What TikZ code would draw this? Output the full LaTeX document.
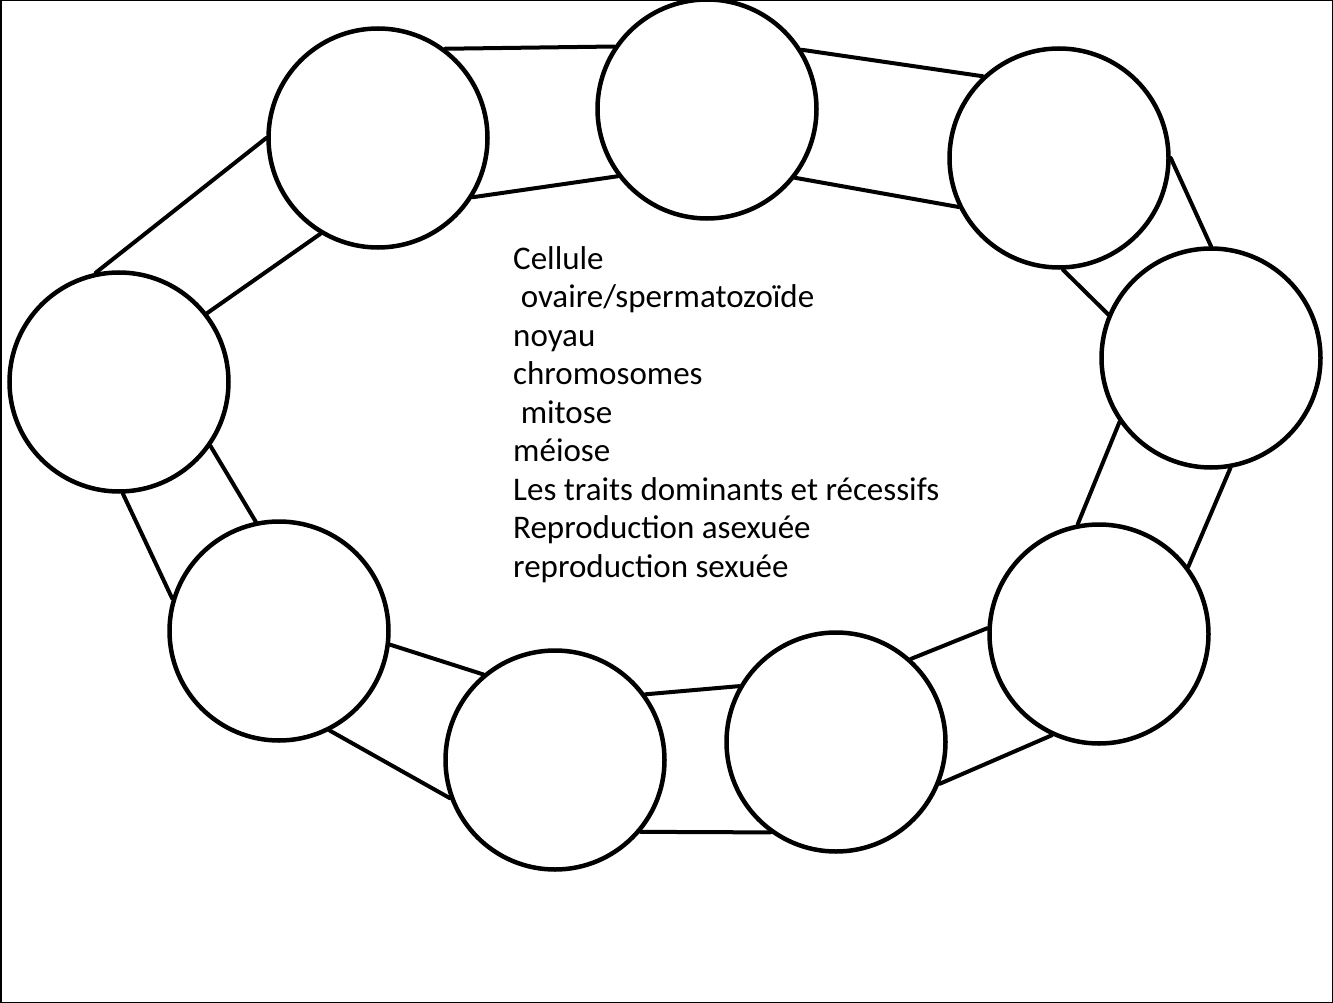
\documentclass[tikz,border=0pt]{standalone}
\usepackage{fontspec}
\setmainfont{Carlito}
\begin{document}
\begin{tikzpicture}[x=1pt,y=-1pt,
  ring/.style={circle,draw,line width=4.5pt,minimum size=219pt,inner sep=0pt},
  link/.style={line width=4pt,line cap=round}]
\useasboundingbox (0,0) rectangle (1333,1003);
\draw[line width=1.5pt] (0.75,0.75) rectangle (1332.25,1002.25);
\node[ring] (c1) at (378,138) {};
\node[ring] (c2) at (707,109) {};
\node[ring] (c3) at (1059,158) {};
\node[ring] (c4) at (1211,358) {};
\node[ring] (c5) at (1099,634) {};
\node[ring] (c6) at (836,742) {};
\node[ring] (c7) at (555,760) {};
\node[ring] (c8) at (279,631) {};
\node[ring] (c9) at (119,382) {};
% links
\draw[link] (c9.102) -- (c1.180);
\draw[link] (c9.38) -- (c1.239);
\draw[link] (c1.53) -- (c2.146);
\draw[link] (c1.-32) -- (c2.217);
\draw[link] (c2.32) -- (c3.133);
\draw[link] (c2.-38) -- (c3.206);
\draw[link] (c3.0) -- (c4.90);
\draw[link] (c3.-88) -- (c4.157);
\draw[link] (c4.215) -- (c5.101);
\draw[link] (c4.-80) -- (c5.37);
\draw[link] (c5.177) -- (c6.48);
\draw[link] (c5.245) -- (c6.-22);
\draw[link] (c6.150) -- (c7.36);
\draw[link] (c6.234) -- (c7.-40);
\draw[link] (c7.130) -- (c8.-7);
\draw[link] (c7.200) -- (c8.-63);
\draw[link] (c8.102) -- (c9.-35);
\draw[link] (c8.163) -- (c9.-88);
\node[anchor=base west,align=left,inner sep=0pt,font=\fontsize{33pt}{38.5pt}\selectfont] (txt) at (513,577)
 {Cellule\\
 \hspace*{.23em}ovaire/spermatozoïde\\
 noyau\\
 chromosomes\\
 \hspace*{.23em}mitose\\
 méiose\\
 Les traits dominants et récessifs\\
 Reproduction asexuée\\
 reproduction sexuée};
\end{tikzpicture}
\end{document}
